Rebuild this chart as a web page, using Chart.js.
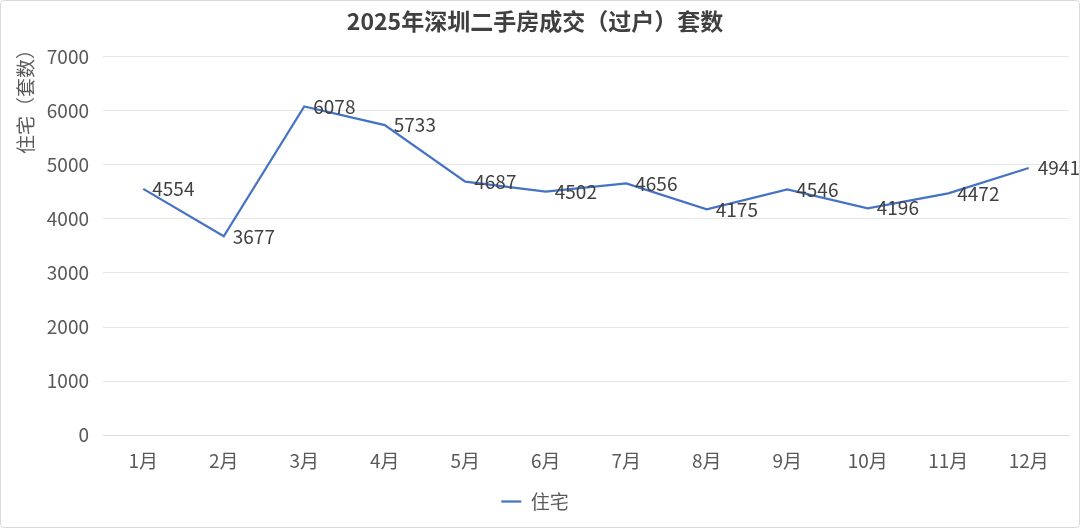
<!DOCTYPE html>
<html lang="zh-CN">
<head>
  <meta charset="UTF-8">
  <title>2025年深圳二手房成交（过户）套数</title>
  <script src="https://cdn.jsdelivr.net/npm/chart.js"></script>
  <style>
    body {
      margin: 0;
      background-color: white;
    }
    .chart-box {
      width: 1080px;
      height: 528px;
      box-sizing: border-box;
      border: 1px solid #d9d9d9;
      border-radius: 4px;
      background-color: white;
    }
  </style>
</head>
<body>
  <div class="chart-box">
    <canvas id="dealsChart"></canvas>
  </div>

  <script>
    const months = ['1月', '2月', '3月', '4月', '5月', '6月', '7月', '8月', '9月', '10月', '11月', '12月'];
    const housing = [4554, 3677, 6078, 5733, 4687, 4502, 4656, 4175, 4546, 4196, 4472, 4941];
    const yMin = 0;
    const yMax = 7000;
    const yStep = 1000;
    const yTitle = '住宅（套数）';

    const fontFamily = '"Noto Sans CJK SC", "Noto Sans", sans-serif';

    // value labels sit to the right of each point, like the Excel original
    const valueLabels = {
      id: 'valueLabels',
      afterDatasetsDraw(chart) {
        const ctx = chart.ctx;
        const meta = chart.getDatasetMeta(0);
        ctx.save();
        ctx.font = '19px ' + fontFamily;
        ctx.fillStyle = '#404040';
        ctx.textAlign = 'left';
        ctx.textBaseline = 'middle';
        meta.data.forEach((pt, i) => {
          ctx.fillText(String(housing[i]), pt.x + 9, pt.y);
        });
        ctx.restore();
      }
    };

    // y axis title sits at the top left, above the plot top, not centred
    const axisTitle = {
      id: 'axisTitle',
      afterDraw(chart) {
        const ctx = chart.ctx;
        ctx.save();
        ctx.translate(25, 39);
        ctx.rotate(-Math.PI / 2);
        ctx.font = '19px ' + fontFamily;
        ctx.fillStyle = '#595959';
        ctx.textAlign = 'right';
        ctx.textBaseline = 'middle';
        ctx.fillText(yTitle, 0, 0);
        ctx.restore();
      }
    };

    const ctx = document.getElementById('dealsChart').getContext('2d');
    const dealsChart = new Chart(ctx, {
      type: 'line',
      data: {
        labels: months,
        datasets: [
          {
            label: '住宅',
            data: housing,
            borderColor: '#4472C4',
            backgroundColor: '#4472C4',
            borderWidth: 2.25,
            pointRadius: 0,
            tension: 0
          }
        ]
      },
      options: {
        responsive: true,
        maintainAspectRatio: false,
        animation: false,
        layout: {
          padding: { left: 0, right: 10, top: 0, bottom: 6 }
        },
        plugins: {
          title: {
            display: true,
            text: '2025年深圳二手房成交（过户）套数',
            color: '#404040',
            font: { family: fontFamily, size: 23, weight: 'bold' },
            padding: { top: 6, bottom: 22 }
          },
          legend: {
            position: 'bottom',
            labels: {
              color: '#595959',
              font: { family: fontFamily, size: 19 },
              usePointStyle: true,
              pointStyle: 'line',
              pointStyleWidth: 20,
              padding: 6
            }
          },
          tooltip: { enabled: false }
        },
        scales: {
          x: {
            offset: true,
            grid: { display: false, drawTicks: false },
            border: { display: true, color: '#d9d9d9' },
            ticks: {
              color: '#595959',
              font: { family: fontFamily, size: 19 },
              padding: 14,
              maxRotation: 0
            }
          },
          y: {
            min: yMin,
            max: yMax,
            afterFit(scale) {
              scale.width = 102;
            },
            grid: { color: '#e6e6e6', drawTicks: false },
            border: { display: false },
            ticks: {
              stepSize: yStep,
              color: '#595959',
              font: { family: fontFamily, size: 19 },
              padding: 14,
              callback: (v) => String(v)
            }
          }
        }
      },
      plugins: [valueLabels, axisTitle]
    });
  </script>
</body>
</html>
